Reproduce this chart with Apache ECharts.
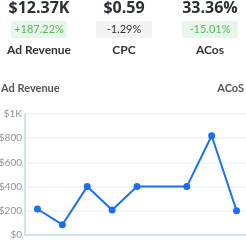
<!DOCTYPE html>
<html><head><meta charset="utf-8">
<script src="https://cdn.jsdelivr.net/npm/echarts@6/dist/echarts.min.js"></script>
<style>html,body{margin:0;padding:0;background:#fff}#c{width:246px;height:240px}</style>
</head><body><div id="c"></div>
<script>
const statValues = ['$12.37K', '$0.59', '33.36%'];
const statChanges = ['+187.22%', '-1.29%', '-15.01%'];
const statLabels = ['Ad Revenue', 'CPC', 'ACos'];
const changeTrend = ['good', 'neutral', 'good'];
const categories = ['1', '2', '3', '4', '5', '6', '7', '8', '9'];
const adRevenue = [215, 85, 400, 207, 400, null, 400, 820, 200];
const yTickLabels = ['$0', '$200', '$400', '$600', '$800', '$1K'];

const FONT = 'Lato, "Open Sans", sans-serif';
const BIG_FONT = '"Open Sans", sans-serif';
const centers = [39, 124, 210];
const graphics = [];
statValues.forEach((v, i) => {
  const cx = centers[i];
  graphics.push({type: 'text', x: cx, y: 8, style: {text: v, align: 'center', verticalAlign: 'middle', font: 'bold 16px ' + BIG_FONT, fill: '#2b2f36'}});
  const good = changeTrend[i] === 'good';
  graphics.push({type: 'rect', shape: {x: cx - 28, y: 21, width: 56, height: 17, r: 2}, style: {fill: good ? '#e6f6e8' : '#f2f3f5'}});
  graphics.push({type: 'text', x: cx, y: 29.5, style: {text: statChanges[i], align: 'center', verticalAlign: 'middle', font: '11px ' + FONT, fill: good ? '#5cb85c' : '#333'}});
  graphics.push({type: 'text', x: cx, y: 50, style: {text: statLabels[i], align: 'center', verticalAlign: 'middle', font: 'bold 12px ' + FONT, fill: '#333'}});
});
graphics.push({type: 'text', x: 1, y: 88, style: {text: 'Ad Revenue', align: 'left', verticalAlign: 'middle', font: 'bold 11px ' + FONT, fill: '#555'}});
graphics.push({type: 'text', x: 244, y: 88, style: {text: 'ACoS', align: 'right', verticalAlign: 'middle', font: 'bold 11px ' + FONT, fill: '#555'}});

const chart = echarts.init(document.getElementById('c'), null, {renderer: 'canvas'});
chart.setOption({
  animation: false,
  graphic: graphics,
  grid: {left: 25, right: -3, top: 114, bottom: 5, containLabel: false, outerBoundsMode: 'none'},
  xAxis: {
    type: 'category', data: categories, boundaryGap: true,
    axisLine: {show: true, lineStyle: {color: '#c5dbe6', width: 1.5}},
    axisTick: {show: false}, axisLabel: {show: false}, splitLine: {show: false}
  },
  yAxis: {
    type: 'value', min: 0, max: 1000, interval: 200,
    axisLine: {show: true, lineStyle: {color: '#c5dbe6', width: 1.5}},
    axisTick: {show: false},
    axisLabel: {color: '#8b95a1', fontSize: 10, fontFamily: FONT, margin: 3,
      formatter: (v) => yTickLabels[Math.round(v / 200)]},
    splitLine: {show: true, lineStyle: {color: '#eef4f6', width: 1.5}}
  },
  series: [{
    type: 'line', data: adRevenue, connectNulls: true,
    symbol: 'circle', symbolSize: 7, showAllSymbol: true,
    lineStyle: {color: '#1b6ff5', width: 2},
    itemStyle: {color: '#1b6ff5'}
  }]
});
</script></body></html>
